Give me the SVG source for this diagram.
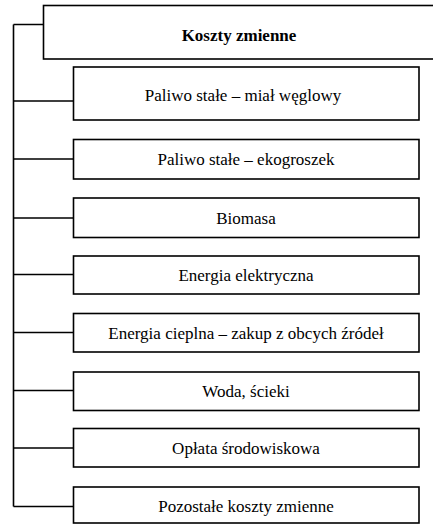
<svg xmlns="http://www.w3.org/2000/svg" width="433" height="525" viewBox="0 0 433 525">
<style>
.box{fill:#fff;stroke:#000;stroke-width:1.6}
.ln{fill:none;stroke:#000;stroke-width:1.6}
text{font-size:17px;fill:#000;text-anchor:middle}
.b{font-weight:bold}
</style>
<rect width="433" height="525" fill="#fff"/>
<g id="connectors">
<path class="ln" d="M13.5 24.5V506.5M13.5 24.5H43M13.5 101H73M13.5 159H73M13.5 218H73M13.5 274.5H73M13.5 332.5H73M13.5 390.5H73M13.5 448H73M13.5 506.5H73"/>
</g>
<g font-family="Liberation Serif, Times New Roman, serif">
<g id="root"><rect class="box" x="43.5" y="5.5" width="395" height="53.5"/><text class="b" x="239" y="40.5">Koszty zmienne</text></g>
<g id="n1"><rect class="box" x="73.5" y="67" width="345.5" height="53"/><text x="243" y="100.5">Paliwo stałe – miał węglowy</text></g>
<g id="n2"><rect class="box" x="73.5" y="139.5" width="345.5" height="39.5"/><text x="246" y="165">Paliwo stałe – ekogroszek</text></g>
<g id="n3"><rect class="box" x="73.5" y="198" width="345.5" height="39.5"/><text x="246" y="223.5">Biomasa</text></g>
<g id="n4"><rect class="box" x="73.5" y="256" width="345.5" height="38"/><text x="246" y="280.5">Energia elektryczna</text></g>
<g id="n5"><rect class="box" x="73.5" y="313.5" width="345.5" height="38.5"/><text x="246" y="338.5">Energia cieplna – zakup z obcych źródeł</text></g>
<g id="n6"><rect class="box" x="73.5" y="372" width="345.5" height="38.5"/><text x="246" y="396.5">Woda, ścieki</text></g>
<g id="n7"><rect class="box" x="73.5" y="428.5" width="345.5" height="38.5"/><text x="246" y="453.5">Opłata środowiskowa</text></g>
<g id="n8"><rect class="box" x="73.5" y="487" width="345.5" height="36"/><text x="246" y="512">Pozostałe koszty zmienne</text></g>
</g>
</svg>
